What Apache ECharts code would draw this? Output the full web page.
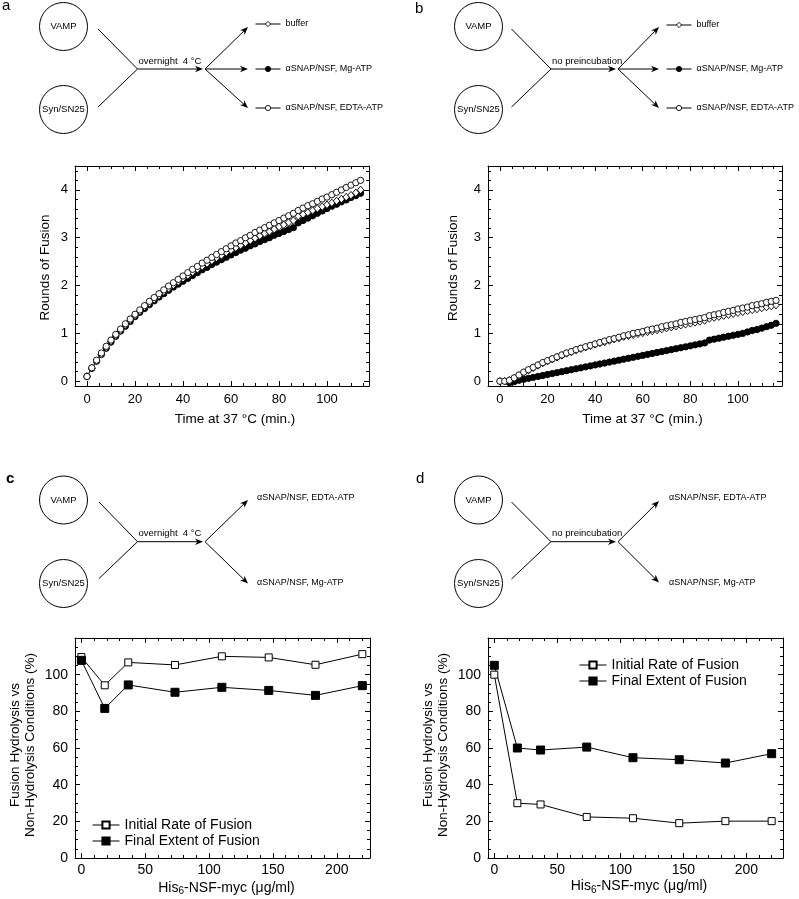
<!DOCTYPE html>
<html><head><meta charset="utf-8">
<script src="https://cdn.jsdelivr.net/npm/echarts@6/dist/echarts.min.js"></script>
<style>html,body{margin:0;padding:0;background:#fff}#c{width:799px;height:899px}</style>
</head><body><div id="c"></div>
<script>
// ---------------- DATA ----------------
const timeA = [0,2,4,6,8,10,12,14,16,18,20,22,24,26,28,30,32,34,36,38,40,42,44,46,48,50,52,54,56,58,60,62,64,66,68,70,72,74,76,78,80,82,84,86,88,90,92,94,96,98,100,102,104,106,108,110,112,114];
const aEdta = [0.10,0.28,0.44,0.59,0.73,0.86,0.98,1.09,1.20,1.30,1.40,1.49,1.58,1.67,1.75,1.83,1.91,1.99,2.06,2.13,2.20,2.27,2.34,2.40,2.47,2.53,2.59,2.65,2.71,2.77,2.83,2.89,2.94,3.00,3.05,3.11,3.16,3.21,3.26,3.31,3.36,3.41,3.46,3.51,3.57,3.62,3.67,3.71,3.76,3.81,3.85,3.90,3.95,4.00,4.05,4.10,4.15,4.20];
const aBuffer = [0.10,0.27,0.42,0.56,0.70,0.83,0.95,1.06,1.17,1.27,1.37,1.46,1.55,1.63,1.71,1.79,1.87,1.94,2.01,2.08,2.15,2.21,2.28,2.34,2.40,2.46,2.52,2.58,2.63,2.69,2.74,2.79,2.84,2.89,2.94,2.99,3.04,3.09,3.13,3.18,3.23,3.27,3.32,3.36,3.45,3.49,3.53,3.57,3.61,3.65,3.69,3.73,3.77,3.81,3.85,3.89,3.94,4.00];
const aMg = [0.10,0.27,0.42,0.56,0.69,0.82,0.94,1.05,1.15,1.25,1.35,1.44,1.52,1.60,1.68,1.76,1.83,1.90,1.97,2.03,2.09,2.15,2.21,2.27,2.33,2.38,2.44,2.49,2.54,2.59,2.64,2.69,2.74,2.78,2.83,2.87,2.92,2.96,3.00,3.05,3.09,3.13,3.17,3.21,3.31,3.36,3.41,3.46,3.51,3.56,3.61,3.66,3.70,3.75,3.79,3.84,3.88,3.93];

const timeB = [0,2,4,6,8,10,12,14,16,18,20,22,24,26,28,30,32,34,36,38,40,42,44,46,48,50,52,54,56,58,60,62,64,66,68,70,72,74,76,78,80,82,84,86,88,90,92,94,96,98,100,102,104,106,108,110,112,114,116];
const bEdta = [0.00,0.00,0.02,0.07,0.13,0.19,0.24,0.29,0.34,0.39,0.43,0.47,0.51,0.55,0.59,0.62,0.66,0.69,0.72,0.75,0.78,0.81,0.84,0.87,0.89,0.92,0.95,0.97,1.00,1.02,1.04,1.07,1.09,1.11,1.14,1.16,1.18,1.20,1.23,1.25,1.27,1.29,1.31,1.33,1.37,1.39,1.41,1.44,1.46,1.48,1.51,1.53,1.55,1.58,1.60,1.62,1.65,1.67,1.69];
const bBuffer = [0.00,0.00,0.02,0.06,0.12,0.18,0.23,0.28,0.33,0.38,0.42,0.46,0.50,0.54,0.58,0.61,0.65,0.68,0.71,0.74,0.77,0.80,0.82,0.85,0.88,0.90,0.93,0.95,0.97,0.99,1.01,1.03,1.05,1.07,1.09,1.11,1.13,1.15,1.17,1.19,1.21,1.23,1.25,1.27,1.31,1.33,1.35,1.37,1.39,1.41,1.43,1.45,1.47,1.49,1.51,1.53,1.55,1.57,1.59];
const bMg = [null,null,-0.03,-0.01,0.02,0.04,0.06,0.08,0.10,0.12,0.14,0.16,0.18,0.20,0.22,0.24,0.26,0.28,0.30,0.32,0.34,0.36,0.38,0.40,0.42,0.44,0.46,0.48,0.50,0.52,0.54,0.56,0.58,0.60,0.62,0.64,0.66,0.68,0.70,0.72,0.74,0.76,0.78,0.80,0.86,0.88,0.90,0.92,0.94,0.96,0.98,1.00,1.03,1.06,1.08,1.11,1.14,1.17,1.21];

const conc = [0,18.3,36.7,73.3,110,146.7,183.3,220];
const cInitial = [109.6,94.2,106.7,105.3,110.0,109.4,105.4,111.2];
const cFinal = [107.8,81.6,94.4,90.4,93.1,91.4,88.7,94.0];
const dInitial = [100.0,29.9,29.2,22.4,21.7,19.0,20.1,20.1];
const dFinal = [105.1,60.0,58.9,60.5,54.7,53.6,51.8,56.9];

const timeTicks = [0,20,40,60,80,100];
const roundTicks = [0,1,2,3,4];
const concTicks = [0,50,100,150,200];
const pctTicks = [0,20,40,60,80,100];

const NAME_BUF = 'buffer', NAME_MG = 'αSNAP/NSF, Mg-ATP', NAME_EDTA = 'αSNAP/NSF, EDTA-ATP';
const NAME_INIT = 'Initial Rate of Fusion', NAME_FINAL = 'Final Extent of Fusion';

// ---------------- HELPERS ----------------
const FONT = '"Liberation Sans", Arial, Helvetica, sans-serif';
function minorsOf(from, to, step, majors) {
  const out = [];
  for (let i = 0; from + i * step <= to + 1e-9; i++) {
    const v = +(from + i * step).toFixed(4);
    if (!majors.some(m => Math.abs(m - v) < 1e-6)) out.push(v);
  }
  return out;
}
const grids = [], xAxes = [], yAxes = [];
function addAxes(gi, dim, min, max, majors, minors, fs, margin) {
  const arr = dim === 'x' ? xAxes : yAxes;
  const pMain = dim === 'x' ? 'bottom' : 'left';
  const pOpp = dim === 'x' ? 'top' : 'right';
  const base = {type: 'value', gridIndex: gi, min, max, splitLine: {show: false}, splitArea: {show: false}, minorTick: {show: false}};
  const lineOn = {show: true, onZero: false, lineStyle: {color: '#000', width: 1}};
  const lineOff = {show: false, onZero: false};
  const tick = (vals, len) => ({show: true, inside: true, length: len, customValues: vals, lineStyle: {color: '#000', width: 1}});
  const idx = arr.length;
  arr.push(Object.assign({}, base, {position: pMain, axisLine: lineOn, axisTick: tick(majors, 5),
    axisLabel: {show: true, customValues: majors, margin, color: '#000', fontSize: fs, fontFamily: FONT}}));
  arr.push(Object.assign({}, base, {position: pMain, axisLine: lineOff, axisTick: tick(minors, 3), axisLabel: {show: false}}));
  arr.push(Object.assign({}, base, {position: pOpp, axisLine: lineOn, axisTick: tick(majors, 5), axisLabel: {show: false}}));
  arr.push(Object.assign({}, base, {position: pOpp, axisLine: lineOff, axisTick: tick(minors, 3), axisLabel: {show: false}}));
  return idx;
}
function zip(xs, ys) { return xs.map((x, i) => [x, ys[i]]).filter(p => p[1] !== null); }

const series = [];
function timeSeries(name, xi, yi, xs, ys, kind) {
  const open = kind !== 'filled';
  series.push({
    name, type: 'line', xAxisIndex: xi, yAxisIndex: yi, data: zip(xs, ys),
    symbol: kind === 'diamond' ? 'diamond' : 'circle',
    symbolSize: kind === 'diamond' ? [6.5, 7.5] : 6.3,
    showAllSymbol: true, silent: true,
    itemStyle: {color: open ? '#fff' : '#000', borderColor: '#000', borderWidth: 0.9},
    lineStyle: {color: '#000', width: 0.5},
    emphasis: {disabled: true}
  });
}
function concSeries(name, xi, yi, ys, filled) {
  series.push({
    name, type: 'line', xAxisIndex: xi, yAxisIndex: yi, data: zip(conc, ys),
    symbol: 'rect', symbolSize: filled ? 8 : 7, showAllSymbol: true, silent: true,
    itemStyle: {color: filled ? '#000' : '#fff', borderColor: '#000', borderWidth: 1},
    lineStyle: {color: '#000', width: 1},
    emphasis: {disabled: true}
  });
}

// ---------------- GRIDS & AXES ----------------
grids.push({left: 75, top: 166, width: 294, height: 220});
grids.push({left: 488, top: 166, width: 294, height: 220});
grids.push({left: 75, top: 638, width: 295, height: 220});
grids.push({left: 488, top: 638, width: 295, height: 220});

const tMin = minorsOf(5, 115, 5, timeTicks);
const rMin = minorsOf(0.2, 4.4, 0.2, roundTicks);
const cMin = minorsOf(10, 220, 10, concTicks);
const pMin = minorsOf(5, 115, 5, pctTicks.concat([120]));

const axA = addAxes(0, 'x', -5, 117.5, timeTicks, tMin, 13, 7);
const ayA = addAxes(0, 'y', -0.1, 4.5, roundTicks, rMin, 13, 7);
const axB = addAxes(1, 'x', -5, 118.5, timeTicks, tMin, 13, 7);
const ayB = addAxes(1, 'y', -0.1, 4.5, roundTicks, rMin, 13, 7);
const axC = addAxes(2, 'x', -5, 226, concTicks, cMin, 14, 5);
const ayC = addAxes(2, 'y', 0, 120, pctTicks, pMin, 14, 7);
const axD = addAxes(3, 'x', -5, 229, concTicks, cMin, 14, 5);
const ayD = addAxes(3, 'y', 0, 120, pctTicks, pMin, 14, 7);

// ---------------- SERIES ----------------
timeSeries(NAME_MG, axA, ayA, timeA, aMg, 'filled');
timeSeries(NAME_BUF, axA, ayA, timeA, aBuffer, 'diamond');
timeSeries(NAME_EDTA, axA, ayA, timeA, aEdta, 'open');
timeSeries(NAME_MG, axB, ayB, timeB, bMg, 'filled');
timeSeries(NAME_BUF, axB, ayB, timeB, bBuffer, 'diamond');
timeSeries(NAME_EDTA, axB, ayB, timeB, bEdta, 'open');
concSeries(NAME_INIT, axC, ayC, cInitial, false);
concSeries(NAME_FINAL, axC, ayC, cFinal, true);
concSeries(NAME_INIT, axD, ayD, dInitial, false);
concSeries(NAME_FINAL, axD, ayD, dFinal, true);

// ---------------- LEGENDS ----------------
const legends = [];
function smallLegend(name, left, cy) {
  legends.push({data: [name], left, top: cy - 6, orient: 'vertical', selectedMode: false,
    itemWidth: 25, itemHeight: 6.5, padding: 0, itemGap: 0,
    lineStyle: {width: 1, color: '#000'},
    itemStyle: {borderWidth: 0.9, borderColor: '#000'},
    textStyle: {fontSize: 9, lineHeight: 12, color: '#000', fontFamily: FONT}});
}
smallLegend(NAME_BUF, 255, 24); smallLegend(NAME_MG, 255, 69); smallLegend(NAME_EDTA, 255, 108);
smallLegend(NAME_BUF, 666, 25); smallLegend(NAME_MG, 666, 69); smallLegend(NAME_EDTA, 666, 108);
function bigLegend(left, top) {
  legends.push({data: [NAME_INIT, NAME_FINAL], left, top, orient: 'vertical', selectedMode: false,
    itemWidth: 27, itemHeight: 9, padding: 0, itemGap: 2,
    lineStyle: {width: 1, color: '#000'},
    textStyle: {fontSize: 14, lineHeight: 14, color: '#000', fontFamily: FONT}});
}
bigLegend(92, 818);
bigLegend(579, 658);

// ---------------- SCHEMATICS & TITLES (graphic) ----------------
const gfx = [];
function circ(cx, cy, r) { gfx.push({type: 'circle', silent: true, shape: {cx, cy, r}, style: {fill: 'none', stroke: '#000', lineWidth: 1}}); }
function seg(x1, y1, x2, y2) { gfx.push({type: 'line', silent: true, shape: {x1, y1, x2, y2}, style: {stroke: '#000', lineWidth: 1}}); }
function arrow(x1, y1, x2, y2) {
  const dx = x2 - x1, dy = y2 - y1, len = Math.hypot(dx, dy), ux = dx / len, uy = dy / len, L = 8, W = 3.2;
  seg(x1, y1, x2 - ux * 5, y2 - uy * 5);
  gfx.push({type: 'polygon', silent: true, shape: {points: [[x2, y2], [x2 - ux * L - uy * W, y2 - uy * L + ux * W], [x2 - ux * L * 0.7, y2 - uy * L * 0.7], [x2 - ux * L + uy * W, y2 - uy * L - ux * W]]}, style: {fill: '#000'}});
}
function txt(x, y, s, size, align, extra) {
  gfx.push(Object.assign({type: 'text', silent: true, x, y, style: Object.assign({text: s, fill: '#000', fontSize: size, fontFamily: FONT,
    align: align || 'left', verticalAlign: 'middle', textAlign: align || 'left', textVerticalAlign: 'middle'}, (extra && extra.style) || {})}, (extra && extra.el) || {}));
}
function schematic(o) {
  circ(o.cx, o.cy1, 24); circ(o.cx, o.cy2, 24);
  txt(o.cx, o.cy1, 'VAMP', 9.5, 'center');
  txt(o.cx, o.cy2, 'Syn/SN25', 9.5, 'center');
  seg(o.lx, o.ly1, o.jx, o.jy); seg(o.lx, o.ly2, o.jx, o.jy);
  arrow(o.jx, o.jy, o.ax, o.jy);
  txt(o.jx + 1, o.jy - 8, o.label, 9.5, 'left');
  o.branches.forEach(b => arrow(o.ax + 2, o.jy, b[0], b[1]));
}
// panel letters
txt(2, 6, 'a', 15, 'left');
txt(415, 8.5, 'b', 15, 'left');
txt(6, 479, 'c', 15, 'left', {style: {fontWeight: 'bold'}});
txt(416, 479, 'd', 15, 'left');

schematic({cx: 63.5, cy1: 26.5, cy2: 109.5, lx: 98, ly1: 29, ly2: 107, jx: 137.5, jy: 69, ax: 203,
  label: 'overnight  4 °C', branches: [[248, 27], [248, 69], [248, 108]]});
schematic({cx: 478.5, cy1: 26.5, cy2: 109.5, lx: 511.5, ly1: 29, ly2: 107, jx: 551, jy: 69, ax: 616,
  label: 'no preincubation', branches: [[659, 27], [659, 69], [659, 108]]});
schematic({cx: 63.5, cy1: 500, cy2: 583.5, lx: 99, ly1: 502, ly2: 578.5, jx: 137.5, jy: 541.7, ax: 203,
  label: 'overnight  4 °C', branches: [[248, 500], [248, 583.5]]});
schematic({cx: 478.5, cy1: 500, cy2: 583.5, lx: 511.5, ly1: 502, ly2: 579, jx: 551, jy: 541.7, ax: 616,
  label: 'no preincubation', branches: [[659, 501], [659, 582.5]]});
txt(257, 497.5, NAME_EDTA, 9, 'left');
txt(257, 582.5, NAME_MG, 9, 'left');
txt(669, 497.5, NAME_EDTA, 9, 'left');
txt(669, 582.5, NAME_MG, 9, 'left');

// axis titles
txt(235, 419, 'Time at 37 °C (min.)', 13.5, 'center');
txt(642.5, 419, 'Time at 37 °C (min.)', 13.5, 'center');
txt(45, 267.5, 'Rounds of Fusion', 13.5, 'center', {el: {rotation: Math.PI / 2}});
txt(453, 268, 'Rounds of Fusion', 13.5, 'center', {el: {rotation: Math.PI / 2}});
const richSub = {a: {fontSize: 14, fontFamily: FONT, fill: '#000', color: '#000'}, s: {fontSize: 10, fontFamily: FONT, fill: '#000', color: '#000', padding: [7, 0, 0, 0]}};
txt(226.5, 888, '{a|His}{s|6}{a|-NSF-myc (μg/ml)}', 14, 'center', {style: {rich: richSub}});
txt(639, 886.5, '{a|His}{s|6}{a|-NSF-myc (μg/ml)}', 14, 'center', {style: {rich: richSub}});
txt(22.5, 745, 'Fusion Hydrolysis vs\nNon-Hydrolysis Conditions (%)', 13.5, 'center', {el: {rotation: Math.PI / 2}, style: {lineHeight: 15}});
txt(435.5, 745, 'Fusion Hydrolysis vs\nNon-Hydrolysis Conditions (%)', 13.5, 'center', {el: {rotation: Math.PI / 2}, style: {lineHeight: 15}});

// ---------------- CHART ----------------
const chart = echarts.init(document.getElementById('c'), null, {renderer: 'canvas'});
chart.setOption({
  animation: false,
  backgroundColor: '#fff',
  textStyle: {fontFamily: FONT},
  grid: grids,
  xAxis: xAxes,
  yAxis: yAxes,
  legend: legends,
  series,
  graphic: {elements: gfx}
});
</script>
</body></html>
